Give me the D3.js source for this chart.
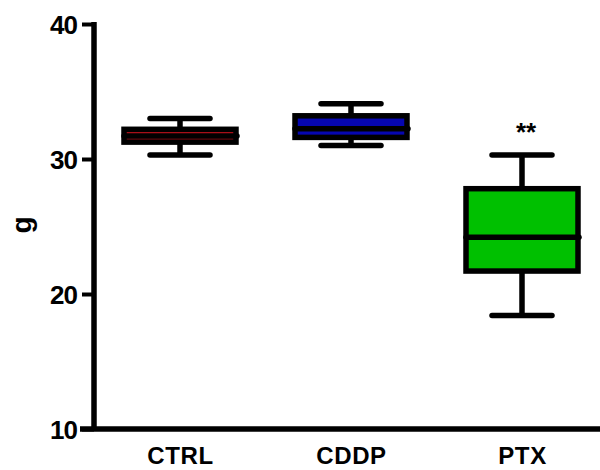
<!DOCTYPE html>
<html>
<head>
<meta charset="utf-8">
<script src="https://cdn.jsdelivr.net/npm/d3@7"></script>
<style>
  html, body { margin: 0; padding: 0; background: #fff; }
  svg { display: block; }
  text { font-family: "Liberation Sans", Arial, sans-serif; font-weight: bold; fill: #000; }
</style>
</head>
<body>
<svg id="chart" width="600" height="470"></svg>
<script>
// ---- data ----
const categories = ["CTRL", "CDDP", "PTX"];
const whiskerMin = [30.3, 31.0, 18.4];
const quartile1  = [31.25, 31.6, 21.7];
const medians    = [31.7, 32.25, 24.2];
const quartile3  = [32.2, 33.2, 27.8];
const whiskerMax = [33.0, 34.1, 30.3];
const fills      = ["#b0101a", "#0606b0", "#00c000"];
const significance = ["", "", "**"];
const yTicks = [10, 20, 30, 40];
const yLabel = "g";

// ---- layout ----
const svg = d3.select("#chart");
const axisX = 94, axisY = 429;

const y = d3.scaleLinear().domain([10, 40]).range([429, 24]);
const x = d3.scalePoint().domain(categories).range([180, 522]);

const boxW = 112, capW = 60, sw = 5.5;

// y axis
const yAxis = d3.axisLeft(y).tickValues(yTicks).tickSize(12).tickSizeOuter(0).tickPadding(5);
const gy = svg.append("g").attr("transform", `translate(${axisX},0)`).call(yAxis);
gy.select(".domain").remove();
gy.selectAll(".tick line").attr("stroke", "#000").attr("stroke-width", 4);
gy.selectAll(".tick text")
  .attr("font-size", 26).attr("dy", "0.37em").attr("letter-spacing", -1)
  .style("font-family", "'Liberation Sans', Arial, sans-serif").style("font-weight", "bold");
svg.append("line")
  .attr("x1", axisX).attr("x2", axisX)
  .attr("y1", y(40) - 2).attr("y2", axisY + 2)
  .attr("stroke", "#000").attr("stroke-width", 5.5);

// x axis
svg.append("line")
  .attr("x1", 80).attr("x2", 600)
  .attr("y1", axisY).attr("y2", axisY)
  .attr("stroke", "#000").attr("stroke-width", 5.5);
const xAxis = d3.axisBottom(x).tickSize(0).tickSizeOuter(0);
const gx = svg.append("g").attr("transform", `translate(0,${axisY})`).call(xAxis);
gx.select(".domain").remove();
gx.selectAll(".tick text")
  .attr("y", 35).attr("dy", 0).attr("font-size", 24).attr("letter-spacing", 0.6)
  .style("font-family", "'Liberation Sans', Arial, sans-serif").style("font-weight", "bold");

// y label
svg.append("text")
  .attr("transform", `translate(31,225) rotate(-90)`)
  .attr("text-anchor", "middle")
  .attr("font-size", 28)
  .text(yLabel);

// boxes
const data = categories.map((c, i) => ({
  c, min: whiskerMin[i], q1: quartile1[i], med: medians[i], q3: quartile3[i], max: whiskerMax[i],
  fill: fills[i], sig: significance[i]
}));

const g = svg.append("g");
data.forEach(d => {
  const cx = x(d.c);
  // whiskers
  g.append("line").attr("x1", cx).attr("x2", cx).attr("y1", y(d.max)).attr("y2", y(d.q3))
    .attr("stroke", "#000").attr("stroke-width", sw);
  g.append("line").attr("x1", cx).attr("x2", cx).attr("y1", y(d.q1)).attr("y2", y(d.min))
    .attr("stroke", "#000").attr("stroke-width", sw);
  [d.max, d.min].forEach(v => {
    g.append("line").attr("x1", cx - capW / 2).attr("x2", cx + capW / 2)
      .attr("y1", y(v)).attr("y2", y(v))
      .attr("stroke", "#000").attr("stroke-width", sw).attr("stroke-linecap", "round");
  });
  // box
  g.append("rect")
    .attr("x", cx - boxW / 2).attr("width", boxW)
    .attr("y", y(d.q3)).attr("height", y(d.q1) - y(d.q3))
    .attr("fill", d.fill).attr("stroke", "#000").attr("stroke-width", sw);
  // median
  g.append("line").attr("x1", cx - boxW / 2).attr("x2", cx + boxW / 2 + 1)
    .attr("y1", y(d.med)).attr("y2", y(d.med))
    .attr("stroke", "#000").attr("stroke-width", sw).attr("stroke-linecap", "round");
  // significance
  if (d.sig) {
    g.append("text").attr("x", cx + 4).attr("y", y(d.max) - 14)
      .attr("text-anchor", "middle").attr("font-size", 26).attr("font-weight", "bold")
      .text(d.sig);
  }
});
</script>
</body>
</html>
